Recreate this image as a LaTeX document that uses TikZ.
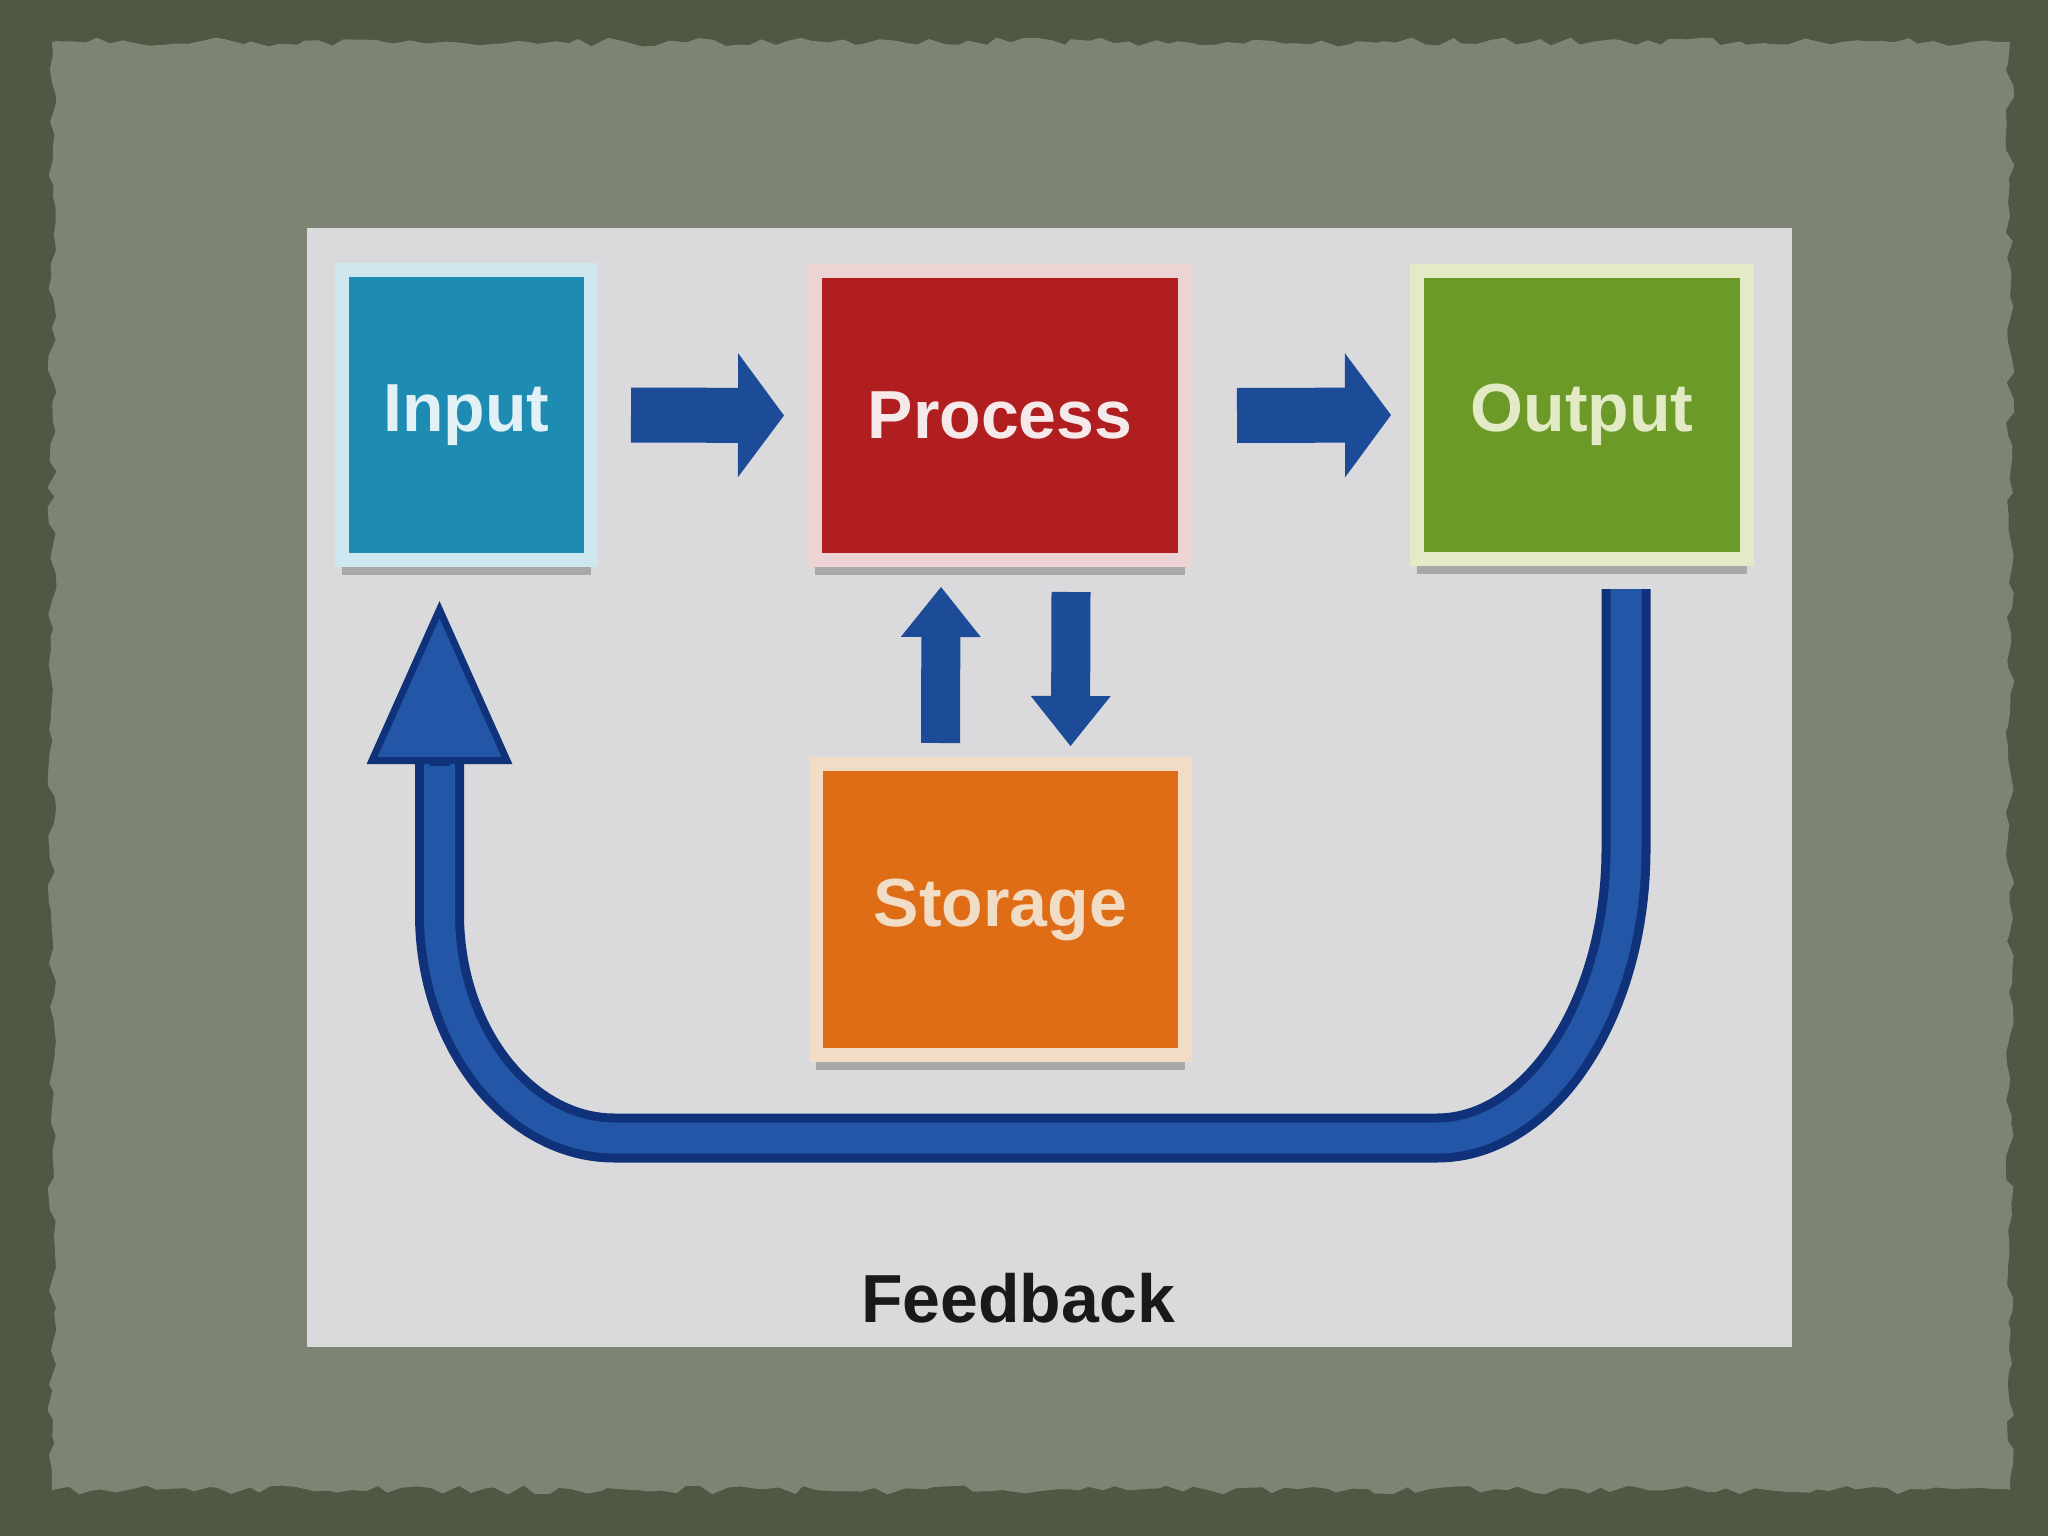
\documentclass[tikz,border=0pt]{standalone}
\usepackage{fontspec}
\setmainfont{Liberation Sans}
\usetikzlibrary{arrows.meta,calc,shadows,decorations.pathmorphing}
\definecolor{bgc}{HTML}{4E5843}
\definecolor{paperc}{HTML}{7E8474}
\definecolor{panelc}{HTML}{DADADC}
\definecolor{inc}{HTML}{1E8CB2}
\definecolor{inframe}{HTML}{CFE7EE}
\definecolor{procc}{HTML}{B01E1F}
\definecolor{procframe}{HTML}{EDD3D3}
\definecolor{outc}{HTML}{6C9A28}
\definecolor{outframe}{HTML}{E3EBC6}
\definecolor{storc}{HTML}{DE6D16}
\definecolor{storframe}{HTML}{F1DCC6}
\definecolor{arrc}{HTML}{1C4B97}
\definecolor{fbdark}{HTML}{10327A}
\definecolor{fbmid}{HTML}{2456A8}
\begin{document}
\begin{tikzpicture}[x=1pt,y=-1pt,
  box/.style={rectangle, inner sep=0pt, line width=14pt,
    font=\bfseries\fontsize{68}{80}\selectfont,
    drop shadow={shadow xshift=0pt,shadow yshift=-15pt,fill=black!50,opacity=0.55}},
  hblock/.style={arrc, line width=55pt, -{Triangle[width=124pt,length=46pt,line width=0pt]}},
  vblock/.style={arrc, line width=39pt, -{Triangle[width=80pt,length=50pt,line width=0pt]}},
  fbbody/.style={draw=fbdark, line width=9pt, double=fbmid, double distance=31pt},
]
\useasboundingbox (0,0) rectangle (2048,1536);
\fill[bgc] (0,0) rectangle (2048,1536);
\pgfmathsetseed{7}
\fill[paperc, decorate, decoration={random steps,segment length=13pt,amplitude=4.5pt}]
  (52,42) rectangle (2010,1490);
\fill[panelc] (307,228) rectangle (1792,1347);

\node[box, fill=inc, draw=inframe, minimum width=249pt, minimum height=290pt,
  text=inframe!60!white] (in) at (466.5,415) {Input};
\node[box, fill=procc, draw=procframe, minimum width=370pt, minimum height=289pt,
  text=procframe!50!white] (proc) at (1000,415.5) {Process};
\node[box, fill=outc, draw=outframe, minimum width=330pt, minimum height=288pt,
  text=outframe] (out) at (1582,415) {Output};
\node[box, fill=storc, draw=storframe, minimum width=369pt, minimum height=291pt,
  text=storframe] (stor) at (1000.5,909.5) {Storage};

\node[font=\bfseries\fontsize{68}{80}\selectfont, text=black!90] (fb) at (1018,1298) {Feedback};

\draw[hblock] ($(in.east)+(33,0)$) -- ($(proc.west)+(-24,0)$);
\draw[hblock] ($(proc.east)+(45,0)$) -- ($(out.west)+(-19,0)$);
\draw[vblock] ($(stor.north)+(-60,-14)$) -- ($(proc.south)+(-59,20)$);
\draw[vblock] ($(proc.south)+(71,25)$) -- ($(stor.north)+(70,-11)$);

\coordinate (fbb) at (1000,1138);
\coordinate (fbs) at ($(out.south)+(44,23)$);
\coordinate (fbe) at ($(in.south)+(-27,34)$);
\coordinate (fbh) at ($(fbe)+(0,160)$);
\draw[fbbody] (fbs) -- ($(fbs |- fbb)+(0,-289)$)
  .. controls ($(fbs |- fbb)+(0,-130)$) and ($(fbs |- fbb)+(-85,0)$) .. ($(fbs |- fbb)+(-189,0)$)
  -- ($(fbe |- fbb)+(175,0)$)
  .. controls ($(fbe |- fbb)+(79,0)$) and ($(fbe |- fbb)+(0,-101)$) .. ($(fbe |- fbb)+(0,-224)$)
  -- (fbh);
\draw[fbdark, line width=20pt, -{Triangle[width=144pt,length=163pt,line width=7pt,fill=fbmid]}]
  ($(fbe)+(0,165)$) -- (fbe);
\end{tikzpicture}
\end{document}
